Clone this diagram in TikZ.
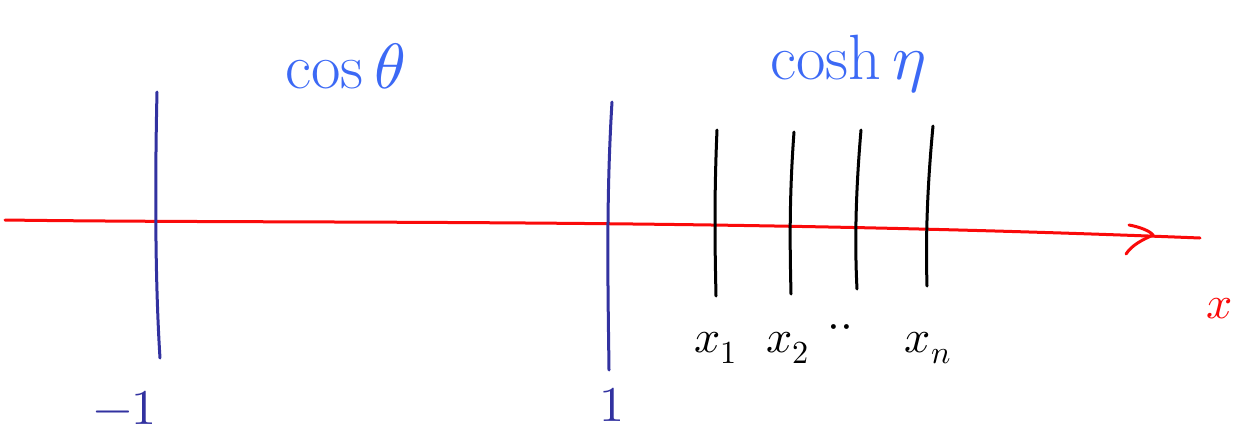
\documentclass[tikz,border=0pt]{standalone}
\usepackage{unicode-math}
\setmathfont{Latin Modern Math}
\definecolor{inkblue}{RGB}{60,105,245}
\definecolor{inkpurple}{RGB}{50,50,160}
\definecolor{inkred}{RGB}{250,10,10}
\begin{document}
\begin{tikzpicture}[x=1pt,y=-1pt,
  stroke/.style={line width=3pt,line cap=round,line join=round},
  bluelabel/.style={text=inkblue,font=\fontsize{64}{66}\selectfont},
  blacklabel/.style={text=black,font=\fontsize{46}{48}\selectfont},
  purplelabel/.style={text=inkpurple,font=\fontsize{50}{52}\selectfont}]
\useasboundingbox (0,0) rectangle (1237,436);
% axis
\draw[stroke,inkred] (5,220) .. controls (300,224) and (700,218) .. (1200,238);
\draw[stroke,inkred] (1129,225) .. controls (1140,227) and (1150,231) .. (1153,235)
  .. controls (1142,240) and (1132,245) .. (1126,254);
\node[text=inkred,font=\fontsize{46}{48}\selectfont] (xlab) at (1220,309) {$x$};
% purple lines
\draw[stroke,inkpurple] (157,92) .. controls (155,180) and (155,280) .. (160,358);
\draw[stroke,inkpurple] (612,102) .. controls (606,200) and (608,290) .. (609,370);
\node[purplelabel] (m1) at (125,408) {$-1$};
\node[purplelabel] (p1) at (612,405) {$1$};
% black lines
\draw[stroke,black] (717,130) .. controls (714,200) and (715,250) .. (716,296);
\draw[stroke,black] (794,132) .. controls (789,200) and (790,250) .. (791,294);
\draw[stroke,black] (861,130) .. controls (855,200) and (855,250) .. (857,289);
\draw[stroke,black] (933,126) .. controls (926,200) and (926,250) .. (927,286);
% labels
\node[bluelabel] (cos) at (345,66) {$\cos\theta$};
\node[bluelabel] (cosh) at (848,64) {$\cosh\eta$};
\node[blacklabel] (x1) at (716,348) {$x_1$};
\node[blacklabel] (x2) at (788,348) {$x_2$};
\node[blacklabel] (dots) at (840,332) {$\cdot\cdot$};
\node[blacklabel] (xn) at (928,348) {$x_n$};
\end{tikzpicture}
\end{document}
